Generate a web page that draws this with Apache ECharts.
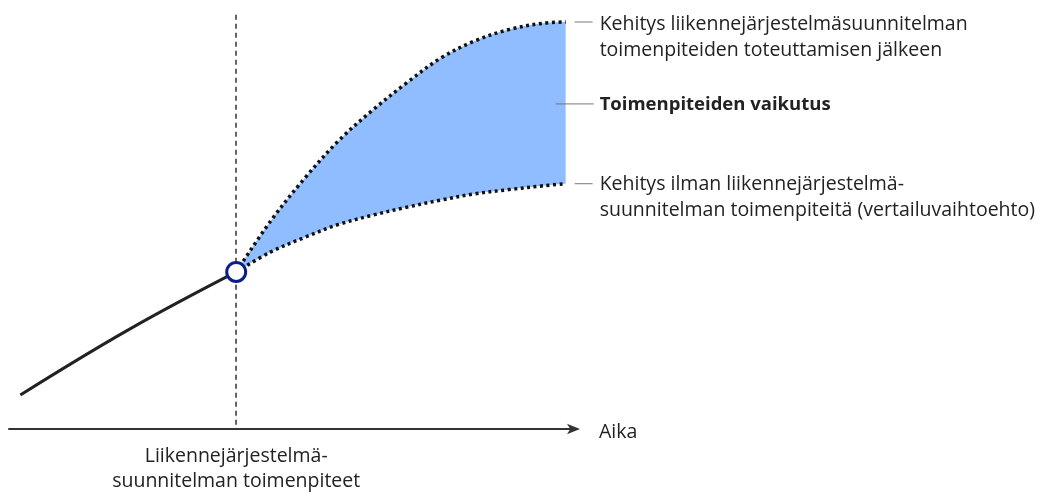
<!DOCTYPE html>
<html>
<head>
<meta charset="utf-8">
<script src="https://cdn.jsdelivr.net/npm/echarts@6/dist/echarts.min.js"></script>
<style>
  html, body { margin: 0; padding: 0; background: #fff; }
  #chart { width: 1042px; height: 492px; }
</style>
</head>
<body>
<div id="chart"></div>
<script>
// time units on x, development level on y
const pastX = [0, 19, 38];
const pastY = [8.1, 23.6, 37.4];

const futureX = [38, 44, 50, 56, 62, 68, 74, 80, 86, 92, 96];
const withPlan = [37.4, 49.4, 59.6, 68.6, 75.9, 82.4, 88.3, 92.4, 95.1, 96.6, 96.9];
const withoutPlan = [37.4, 42.1, 45.6, 48.7, 50.9, 52.8, 54.5, 56.0, 57.0, 57.9, 58.4];

const planTime = 38;
const planLevel = 37.4;

const axisName = 'Aika';
const planLabel = 'Liikennejärjestelmä-\nsuunnitelman toimenpiteet';
const upperLabel = 'Kehitys liikennejärjestelmäsuunnitelman\ntoimenpiteiden toteuttamisen jälkeen';
const middleLabel = 'Toimenpiteiden vaikutus';
const lowerLabel = 'Kehitys ilman liikennejärjestelmä-\nsuunnitelman toimenpiteitä (vertailuvaihtoehto)';
const middleLevel = 77.4;

const font = '"Open Sans", "Noto Sans", sans-serif';
const textColor = '#222';

let myChart = echarts.init(document.getElementById('chart'));

let pastData = pastX.map((x, i) => [x, pastY[i]]);
let upperData = futureX.map((x, i) => [x, withPlan[i]]);
let lowerData = futureX.map((x, i) => [x, withoutPlan[i]]);

myChart.setOption({
  animation: false,
  grid: {
    left: 9,
    right: 465,
    top: 9,
    bottom: 63,
    outerBoundsMode: 'none'
  },
  xAxis: {
    type: 'value',
    min: -2,
    max: 98,
    interval: 40,
    z: 10,
    axisLine: {
      show: true,
      symbol: ['none', 'arrow'],
      symbolSize: [8, 13],
      symbolOffset: [0, 3],
      lineStyle: { color: '#333', width: 2 }
    },
    axisTick: { show: false },
    splitLine: { show: false },
    axisLabel: {
      margin: 15,
      fontFamily: font,
      fontSize: 19.5,
      lineHeight: 25,
      color: textColor,
      showMinLabel: true,
      formatter: function (v) {
        return v === planTime ? planLabel : '';
      }
    }
  },
  yAxis: {
    type: 'value',
    min: 0,
    max: 100,
    show: false
  },
  series: [
    {
      name: 'upper',
      type: 'line',
      data: upperData,
      smooth: 0.35,
      symbol: 'none',
      lineStyle: { color: '#111', width: 3.5, type: [3, 3.5] },
      areaStyle: { color: '#8fbdff', opacity: 1 },
      z: 2
    },
    {
      name: 'lower',
      type: 'line',
      data: lowerData,
      smooth: 0.35,
      symbol: 'none',
      lineStyle: { color: '#111', width: 3.5, type: [3, 3.5] },
      // white fill hides the blue below the lower curve; the offset shadow covers the edge seam
      areaStyle: { color: '#fff', opacity: 1, shadowColor: '#fff', shadowBlur: 0, shadowOffsetX: 1.5 },
      z: 3
    },
    {
      name: 'past',
      type: 'line',
      data: pastData,
      smooth: 0.4,
      symbol: 'none',
      lineStyle: { color: '#222', width: 3 },
      z: 5,
      markLine: {
        silent: true,
        symbol: 'none',
        label: { show: false },
        lineStyle: { color: '#333', width: 1.5, type: [5, 4] },
        data: [[{ coord: [planTime, 1] }, { coord: [planTime, 98.8] }]]
      }
    },
    {
      name: 'point',
      type: 'scatter',
      data: [[planTime, planLevel]],
      symbol: 'circle',
      symbolSize: 19,
      itemStyle: { color: '#fff', borderColor: '#0a1f8c', borderWidth: 3, opacity: 1 },
      z: 6
    }
  ]
});

// labels on the right, placed from the end points of the curves
let last = futureX.length - 1;
let upEnd = myChart.convertToPixel({ seriesIndex: 0 }, [futureX[last], withPlan[last]]);
let lowEnd = myChart.convertToPixel({ seriesIndex: 0 }, [futureX[last], withoutPlan[last]]);
let midPt = myChart.convertToPixel({ seriesIndex: 0 }, [futureX[last], middleLevel]);
let axisEnd = myChart.convertToPixel({ seriesIndex: 0 }, [98, 0]);
let textX = upEnd[0] + 34;

function leader(x1, x2, y) {
  return {
    type: 'line',
    shape: { x1: x1, y1: y, x2: x2, y2: y },
    style: { stroke: '#777', lineWidth: 1 },
    z: 10
  };
}
function label(text, x, y, size, bold) {
  return {
    type: 'text',
    x: x,
    y: y,
    style: {
      text: text,
      font: (bold ? 'bold ' : '') + size + 'px ' + font,
      fill: textColor,
      lineHeight: 26,
      verticalAlign: 'top'
    },
    z: 10
  };
}

myChart.setOption({
  graphic: [
    leader(upEnd[0] + 9, upEnd[0] + 27, upEnd[1]),
    leader(midPt[0] - 10, midPt[0] + 28, midPt[1]),
    leader(lowEnd[0] + 9, lowEnd[0] + 27, lowEnd[1]),
    label(upperLabel, textX, upEnd[1] - 11, 19.5, false),
    label(middleLabel, textX, midPt[1] - 12, 18.5, true),
    label(lowerLabel, textX, lowEnd[1] - 12.5, 19.5, false),
    label(axisName, axisEnd[0] + 22, axisEnd[1] - 9.5, 19.5, false)
  ]
});
</script>
</body>
</html>
